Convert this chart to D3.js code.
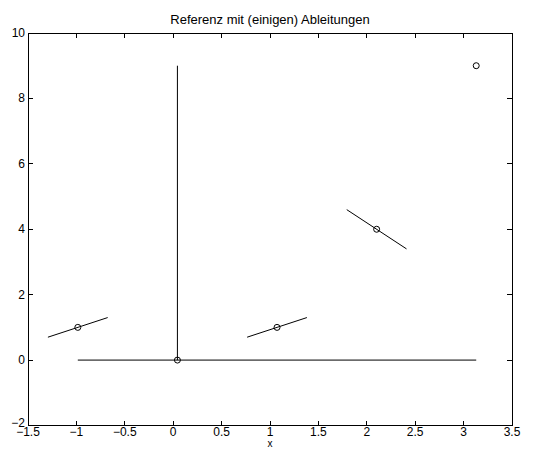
<!DOCTYPE html>
<html><head><meta charset="utf-8">
<script src="https://cdn.jsdelivr.net/npm/d3@7/dist/d3.min.js"></script>
<style>body{margin:0;background:#fff}svg{display:block}text{font-family:"Liberation Sans",Arial,sans-serif;fill:#000}</style>
</head><body><svg id="c" width="536" height="456"></svg>
<script>
const titleText = "Referenz mit (einigen) Ableitungen";
const xLabel = "x";
const xTicks = [-1.5,-1,-0.5,0,0.5,1,1.5,2,2.5,3,3.5];
const yTicks = [-2,0,2,4,6,8,10];
// points of f(x)=x^2
const px = [-1,0,1,2,3];
const py = [1,0,1,4,9];
// tangent segments [x1,y1,x2,y2]
const tangents = [[-1.3,0.7,-0.7,1.3],[0.7,0.7,1.3,1.3],[1.7,4.6,2.3,3.4]];
// other lines
const vLine = [[0,0],[0,9]];
const hLine = [[-1,0],[3,0]];

const svg = d3.select("#c");
const L=28, R=512, T=33, B=425.5;
const x = d3.scaleLinear().domain([-1.5,3.5]).range([L,R]);
// data layer as rendered in the reference (slightly wider than the frame)
const xd = d3.scaleLinear().domain([-1.5,3.5]).range([L,L+(R-L)*1.029]);
const y = d3.scaleLinear().domain([-2,10]).range([B,T]);
const fmt = v => (v<0?"\u2212":"") + Math.abs(v);

const g = svg.append("g");
const line = d3.line().x(d=>xd(d[0])).y(d=>y(d[1]));
g.append("path").attr("d",line(hLine)).attr("stroke","#000").attr("fill","none").attr("stroke-width",1);
g.append("path").attr("d",line(vLine)).attr("stroke","#000").attr("fill","none").attr("stroke-width",1);
tangents.forEach(t=>{
  g.append("path").attr("d",line([[t[0],t[1]],[t[2],t[3]]])).attr("stroke","#000").attr("fill","none").attr("stroke-width",1);
});
px.forEach((v,i)=>{
  g.append("circle").attr("cx",xd(v)).attr("cy",y(py[i])).attr("r",3).attr("fill","none").attr("stroke","#000").attr("stroke-width",1);
});

// frame & ticks
const ax = svg.append("g").attr("stroke","#000").attr("stroke-width",1).attr("shape-rendering","crispEdges");
ax.append("rect").attr("x",L).attr("y",T).attr("width",R-L).attr("height",B-T).attr("fill","none");
const tl=5;
xTicks.forEach(v=>{
  ax.append("line").attr("x1",x(v)).attr("x2",x(v)).attr("y1",B).attr("y2",B-tl);
  ax.append("line").attr("x1",x(v)).attr("x2",x(v)).attr("y1",T).attr("y2",T+tl);
});
yTicks.forEach(v=>{
  ax.append("line").attr("x1",L).attr("x2",L+tl).attr("y1",y(v)).attr("y2",y(v));
  ax.append("line").attr("x1",R).attr("x2",R-tl).attr("y1",y(v)).attr("y2",y(v));
});
xTicks.forEach(v=>{
  svg.append("text").attr("x",x(v)).attr("y",B+10).attr("text-anchor","middle").attr("font-size",12).text(fmt(v));
});
yTicks.forEach(v=>{
  svg.append("text").attr("x",L-3).attr("y",y(v)+(v===-2?1.5:4)).attr("text-anchor","end").attr("font-size",12).text(fmt(v));
});
svg.append("text").attr("x",(L+R)/2).attr("y",24).attr("text-anchor","middle").attr("font-size",13).text(titleText);
svg.append("text").attr("x",(L+R)/2).attr("y",447).attr("text-anchor","middle").attr("font-size",10).text(xLabel);
</script></body></html>
